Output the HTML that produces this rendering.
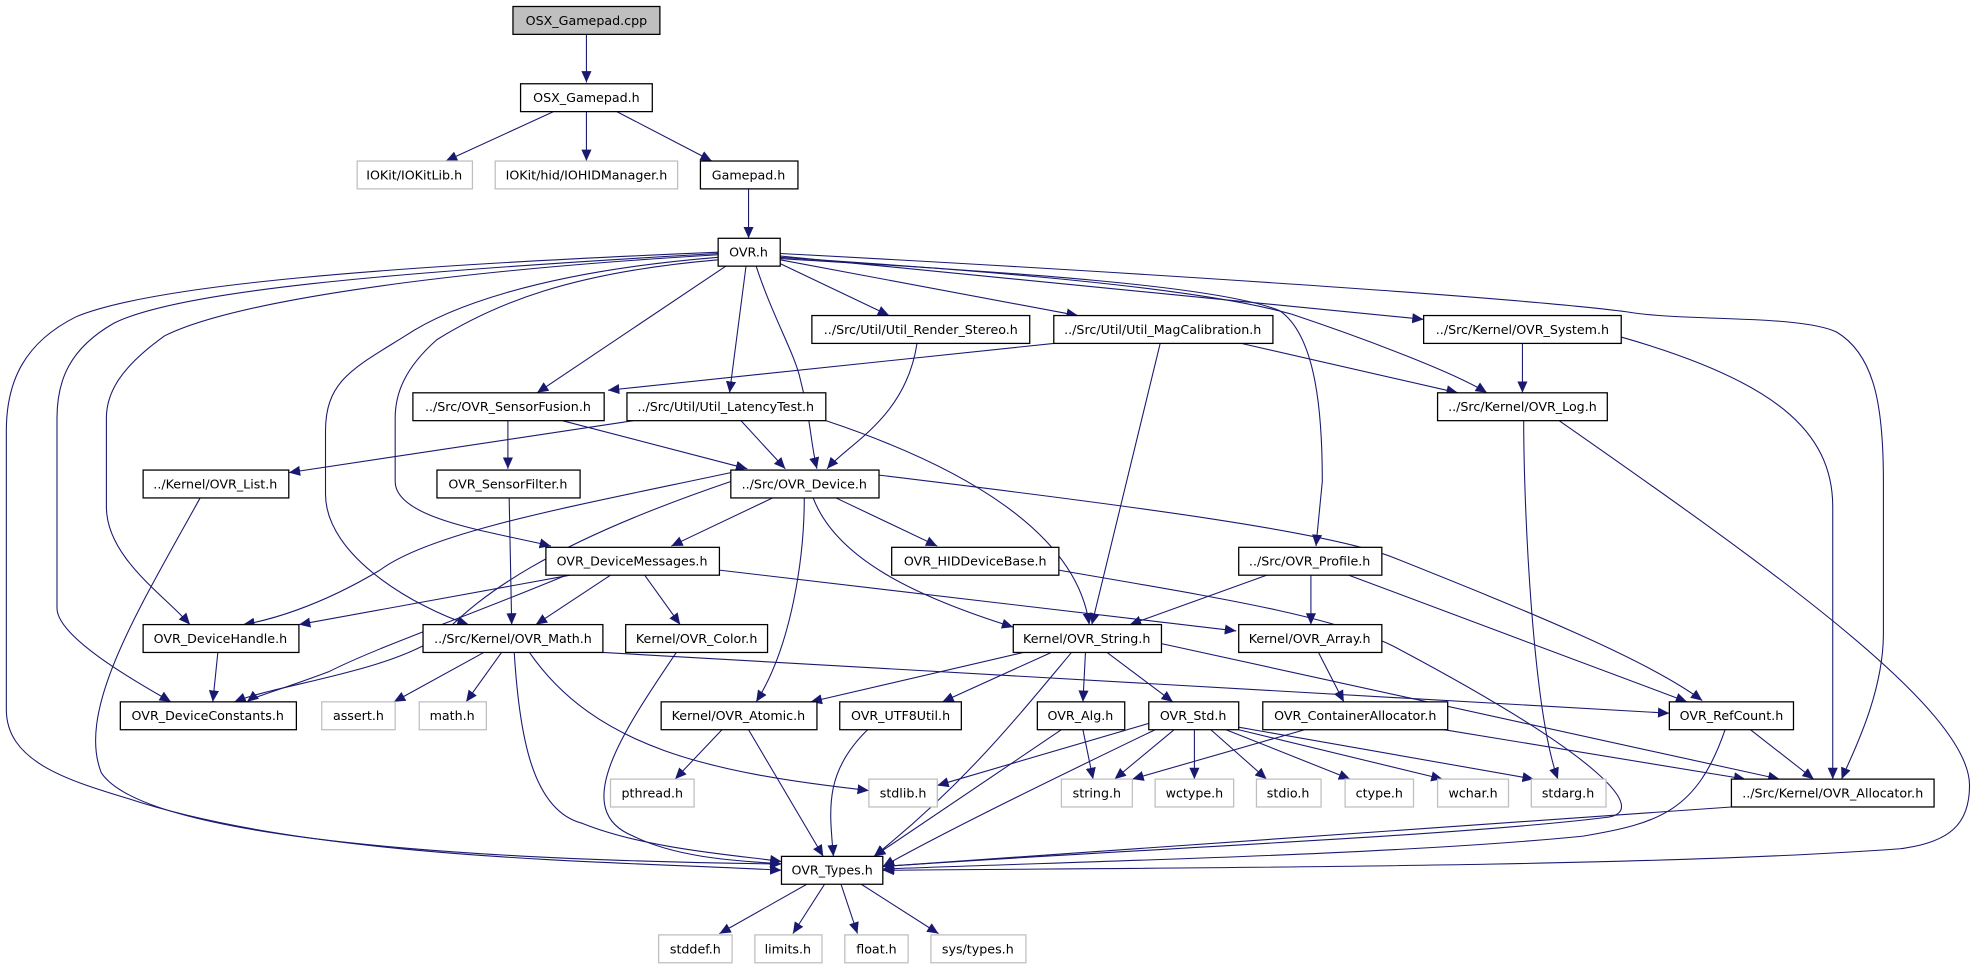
<!DOCTYPE html>
<html><head><meta charset="utf-8"><style>
html,body{margin:0;padding:0;background:#fff;}
svg{display:block;}
text{font-family:"DejaVu Sans","Liberation Sans",sans-serif;font-size:10px;fill:#000;}
.n{fill:#fff;stroke:#000;stroke-width:1;}
.g{fill:#fff;stroke:#bfbfbf;stroke-width:1;}
.e{fill:none;stroke:#191970;stroke-width:0.85;marker-end:url(#a);}
</style></head><body>
<svg width="1986" height="968" viewBox="0 0 1568 764" xmlns="http://www.w3.org/2000/svg">
<defs><marker id="a" markerUnits="userSpaceOnUse" markerWidth="10" markerHeight="8" refX="9" refY="4" orient="auto"><path d="M0,0 L9,4 L0,8 z" fill="#191970"/></marker></defs>
<g>
<path class="e" d="M463,27 L463,65"/>
<path class="e" d="M437,88 L352,127"/>
<path class="e" d="M463,88 L463,127"/>
<path class="e" d="M487,88 L562,127"/>
<path class="e" d="M591,149 L591,188"/>
<path class="e" d="M567,199 C300,210 120,225 60,250 C20,270 5,300 5,340 L5,560 C5,600 50,615 100,630 C250,680 500,680 617,687"/>
<path class="e" d="M567,200 C300,215 140,230 90,255 C55,275 45,300 45,330 L45,480 C45,505 120,545 135,554"/>
<path class="e" d="M567,201 C330,215 180,240 130,265 C95,290 84,310 84,330 L84,400 C84,440 130,470 150,493"/>
<path class="e" d="M567,203 C420,215 350,245 320,265 C280,290 257,300 257,340 L257,390 C257,440 330,480 370,493"/>
<path class="e" d="M567,205 C450,215 390,240 345,268 C320,290 312,310 312,330 L312,380 C312,410 390,420 435,431"/>
<path class="e" d="M573,210 L424,310"/>
<path class="e" d="M589,210 L576,310"/>
<path class="e" d="M597,210 C610,250 628,280 632,300 C640,330 640,350 645,370"/>
<path class="e" d="M616,208 L702,249"/>
<path class="e" d="M616,205 L851,249"/>
<path class="e" d="M616,203 C800,215 950,228 1020,248 C1080,268 1150,295 1174,310"/>
<path class="e" d="M616,204 C800,215 960,225 1010,245 C1040,265 1044,330 1044,380 L1039,431"/>
<path class="e" d="M616,202 L1124,252"/>
<path class="e" d="M616,200 C900,215 1200,235 1284,246 C1330,254 1420,248 1450,262 C1480,280 1487,320 1487,380 L1487,500 C1487,550 1460,600 1454,615"/>
<path class="e" d="M724,271 C715,330 670,350 653,370"/>
<path class="e" d="M832,271 L480,308"/>
<path class="e" d="M916,271 L862,493"/>
<path class="e" d="M980,271 L1151,310"/>
<path class="e" d="M1202,271 L1202,310"/>
<path class="e" d="M1280,266 C1400,300 1447,340 1447,400 L1447,615"/>
<path class="e" d="M1203,332 C1203,400 1210,560 1230,615"/>
<path class="e" d="M1231,332 C1400,450 1555,560 1555,620 C1555,650 1540,665 1500,670 C1300,685 900,685 697,687"/>
<path class="e" d="M401,332 L401,370"/>
<path class="e" d="M444,332 L590,370"/>
<path class="e" d="M500,332 L228,373"/>
<path class="e" d="M585,332 L620,370"/>
<path class="e" d="M652,332 C760,368 850,420 860,493"/>
<path class="e" d="M158,393 C110,480 60,560 80,610 C120,670 450,680 617,682"/>
<path class="e" d="M402,393 L404,493"/>
<path class="e" d="M577,373 C450,400 340,420 300,450 C250,480 210,490 192,493"/>
<path class="e" d="M577,380 C430,430 380,470 350,500 C310,530 220,540 185,554"/>
<path class="e" d="M610,393 L530,431"/>
<path class="e" d="M660,393 L740,431"/>
<path class="e" d="M635,393 C635,440 625,510 597,554"/>
<path class="e" d="M642,393 C660,440 720,470 800,495"/>
<path class="e" d="M694,375 C900,400 1050,420 1100,440 C1200,480 1300,520 1344,553"/>
<path class="e" d="M450,454 L236,493"/>
<path class="e" d="M447,454 C360,490 300,510 260,530 C220,545 200,550 195,554"/>
<path class="e" d="M482,454 L423,493"/>
<path class="e" d="M509,454 L537,493"/>
<path class="e" d="M568,450 L976,498"/>
<path class="e" d="M836,450 C950,470 1050,485 1100,510 C1270,600 1300,640 1270,645 C1150,660 900,670 697,684"/>
<path class="e" d="M172,515 L168,554"/>
<path class="e" d="M382,515 L311,554"/>
<path class="e" d="M396,515 L368,554"/>
<path class="e" d="M406,515 C410,580 420,640 460,650 C510,670 580,675 617,680"/>
<path class="e" d="M418,515 C470,590 560,610 686,624"/>
<path class="e" d="M476,515 L1318,563"/>
<path class="e" d="M534,515 C490,580 450,640 500,660 C540,680 600,680 617,682"/>
<path class="e" d="M1000,454 L892,493"/>
<path class="e" d="M1035,454 L1035,493"/>
<path class="e" d="M1065,454 L1332,554"/>
<path class="e" d="M808,515 L640,554"/>
<path class="e" d="M830,515 L744,554"/>
<path class="e" d="M846,515 C800,570 760,620 690,676"/>
<path class="e" d="M857,515 L855,554"/>
<path class="e" d="M874,515 L926,554"/>
<path class="e" d="M917,508 L1405,615"/>
<path class="e" d="M1041,515 L1061,554"/>
<path class="e" d="M570,576 L533,615"/>
<path class="e" d="M591,576 L650,676"/>
<path class="e" d="M685,576 C650,610 655,640 658,676"/>
<path class="e" d="M855,576 L863,615"/>
<path class="e" d="M838,576 L690,676"/>
<path class="e" d="M907,571 L740,620"/>
<path class="e" d="M927,576 L880,615"/>
<path class="e" d="M943,576 L943,615"/>
<path class="e" d="M956,576 L1000,615"/>
<path class="e" d="M968,576 L1066,615"/>
<path class="e" d="M978,576 L1139,615"/>
<path class="e" d="M978,574 L1211,615"/>
<path class="e" d="M912,576 C800,630 740,660 697,684"/>
<path class="e" d="M1030,576 L894,615"/>
<path class="e" d="M1140,576 L1378,615"/>
<path class="e" d="M1382,576 L1432,615"/>
<path class="e" d="M1362,576 C1340,640 1310,650 1250,660 C1100,675 850,680 697,686"/>
<path class="e" d="M1367,637 L697,684"/>
<path class="e" d="M637,698 L568,737"/>
<path class="e" d="M651,698 L626,737"/>
<path class="e" d="M664,698 L677,737"/>
<path class="e" d="M680,698 L741,737"/>
</g>
<g>
<rect x="405" y="5" width="116" height="22" fill="#bfbfbf" stroke="#000"/><text x="463" y="19.5" text-anchor="middle">OSX_Gamepad.cpp</text>
<rect class="n" x="411" y="66" width="104" height="22"/><text x="463" y="80.5" text-anchor="middle">OSX_Gamepad.h</text>
<rect class="g" x="282" y="127" width="91" height="22"/><text x="327" y="141.5" text-anchor="middle">IOKit/IOKitLib.h</text>
<rect class="g" x="391" y="127" width="144" height="22"/><text x="463" y="141.5" text-anchor="middle">IOKit/hid/IOHIDManager.h</text>
<rect class="n" x="553" y="127" width="77" height="22"/><text x="591" y="141.5" text-anchor="middle">Gamepad.h</text>
<rect class="n" x="567" y="188" width="49" height="22"/><text x="591" y="202.5" text-anchor="middle">OVR.h</text>
<rect class="n" x="641" y="249" width="172" height="22"/><text x="727" y="263.5" text-anchor="middle">../Src/Util/Util_Render_Stereo.h</text>
<rect class="n" x="832" y="249" width="173" height="22"/><text x="918" y="263.5" text-anchor="middle">../Src/Util/Util_MagCalibration.h</text>
<rect class="n" x="1124" y="249" width="156" height="22"/><text x="1202" y="263.5" text-anchor="middle">../Src/Kernel/OVR_System.h</text>
<rect class="n" x="1135" y="310" width="134" height="22"/><text x="1202" y="324.5" text-anchor="middle">../Src/Kernel/OVR_Log.h</text>
<rect class="n" x="326" y="310" width="151" height="22"/><text x="401" y="324.5" text-anchor="middle">../Src/OVR_SensorFusion.h</text>
<rect class="n" x="495" y="310" width="157" height="22"/><text x="573" y="324.5" text-anchor="middle">../Src/Util/Util_LatencyTest.h</text>
<rect class="n" x="113" y="371" width="115" height="22"/><text x="170" y="385.5" text-anchor="middle">../Kernel/OVR_List.h</text>
<rect class="n" x="345" y="371" width="113" height="22"/><text x="401" y="385.5" text-anchor="middle">OVR_SensorFilter.h</text>
<rect class="n" x="577" y="371" width="117" height="22"/><text x="635" y="385.5" text-anchor="middle">../Src/OVR_Device.h</text>
<rect class="n" x="431" y="432" width="137" height="22"/><text x="499" y="446.5" text-anchor="middle">OVR_DeviceMessages.h</text>
<rect class="n" x="704" y="432" width="132" height="22"/><text x="770" y="446.5" text-anchor="middle">OVR_HIDDeviceBase.h</text>
<rect class="n" x="978" y="432" width="113" height="22"/><text x="1034" y="446.5" text-anchor="middle">../Src/OVR_Profile.h</text>
<rect class="n" x="113" y="493" width="123" height="22"/><text x="174" y="507.5" text-anchor="middle">OVR_DeviceHandle.h</text>
<rect class="n" x="334" y="493" width="142" height="22"/><text x="405" y="507.5" text-anchor="middle">../Src/Kernel/OVR_Math.h</text>
<rect class="n" x="494" y="493" width="112" height="22"/><text x="550" y="507.5" text-anchor="middle">Kernel/OVR_Color.h</text>
<rect class="n" x="800" y="493" width="117" height="22"/><text x="858" y="507.5" text-anchor="middle">Kernel/OVR_String.h</text>
<rect class="n" x="978" y="493" width="113" height="22"/><text x="1034" y="507.5" text-anchor="middle">Kernel/OVR_Array.h</text>
<rect class="n" x="95" y="554" width="139" height="22"/><text x="164" y="568.5" text-anchor="middle">OVR_DeviceConstants.h</text>
<rect class="g" x="254" y="554" width="58" height="22"/><text x="283" y="568.5" text-anchor="middle">assert.h</text>
<rect class="g" x="331" y="554" width="53" height="22"/><text x="357" y="568.5" text-anchor="middle">math.h</text>
<rect class="n" x="522" y="554" width="123" height="22"/><text x="583" y="568.5" text-anchor="middle">Kernel/OVR_Atomic.h</text>
<rect class="n" x="663" y="554" width="96" height="22"/><text x="711" y="568.5" text-anchor="middle">OVR_UTF8Util.h</text>
<rect class="n" x="819" y="554" width="69" height="22"/><text x="853" y="568.5" text-anchor="middle">OVR_Alg.h</text>
<rect class="n" x="907" y="554" width="71" height="22"/><text x="942" y="568.5" text-anchor="middle">OVR_Std.h</text>
<rect class="n" x="997" y="554" width="146" height="22"/><text x="1070" y="568.5" text-anchor="middle">OVR_ContainerAllocator.h</text>
<rect class="n" x="1318" y="554" width="98" height="22"/><text x="1367" y="568.5" text-anchor="middle">OVR_RefCount.h</text>
<rect class="g" x="482" y="615" width="66" height="22"/><text x="515" y="629.5" text-anchor="middle">pthread.h</text>
<rect class="g" x="686" y="615" width="54" height="22"/><text x="713" y="629.5" text-anchor="middle">stdlib.h</text>
<rect class="g" x="838" y="615" width="56" height="22"/><text x="866" y="629.5" text-anchor="middle">string.h</text>
<rect class="g" x="912" y="615" width="62" height="22"/><text x="943" y="629.5" text-anchor="middle">wctype.h</text>
<rect class="g" x="992" y="615" width="51" height="22"/><text x="1017" y="629.5" text-anchor="middle">stdio.h</text>
<rect class="g" x="1062" y="615" width="54" height="22"/><text x="1089" y="629.5" text-anchor="middle">ctype.h</text>
<rect class="g" x="1135" y="615" width="56" height="22"/><text x="1163" y="629.5" text-anchor="middle">wchar.h</text>
<rect class="g" x="1209" y="615" width="59" height="22"/><text x="1238" y="629.5" text-anchor="middle">stdarg.h</text>
<rect class="n" x="1367" y="615" width="160" height="22"/><text x="1447" y="629.5" text-anchor="middle">../Src/Kernel/OVR_Allocator.h</text>
<rect class="n" x="617" y="676" width="80" height="22"/><text x="657" y="690.5" text-anchor="middle">OVR_Types.h</text>
<rect class="g" x="520" y="738" width="58" height="22"/><text x="549" y="752.5" text-anchor="middle">stddef.h</text>
<rect class="g" x="596" y="738" width="53" height="22"/><text x="622" y="752.5" text-anchor="middle">limits.h</text>
<rect class="g" x="667" y="738" width="50" height="22"/><text x="692" y="752.5" text-anchor="middle">float.h</text>
<rect class="g" x="735" y="738" width="75" height="22"/><text x="772" y="752.5" text-anchor="middle">sys/types.h</text>
</g>
</svg>
</body></html>
